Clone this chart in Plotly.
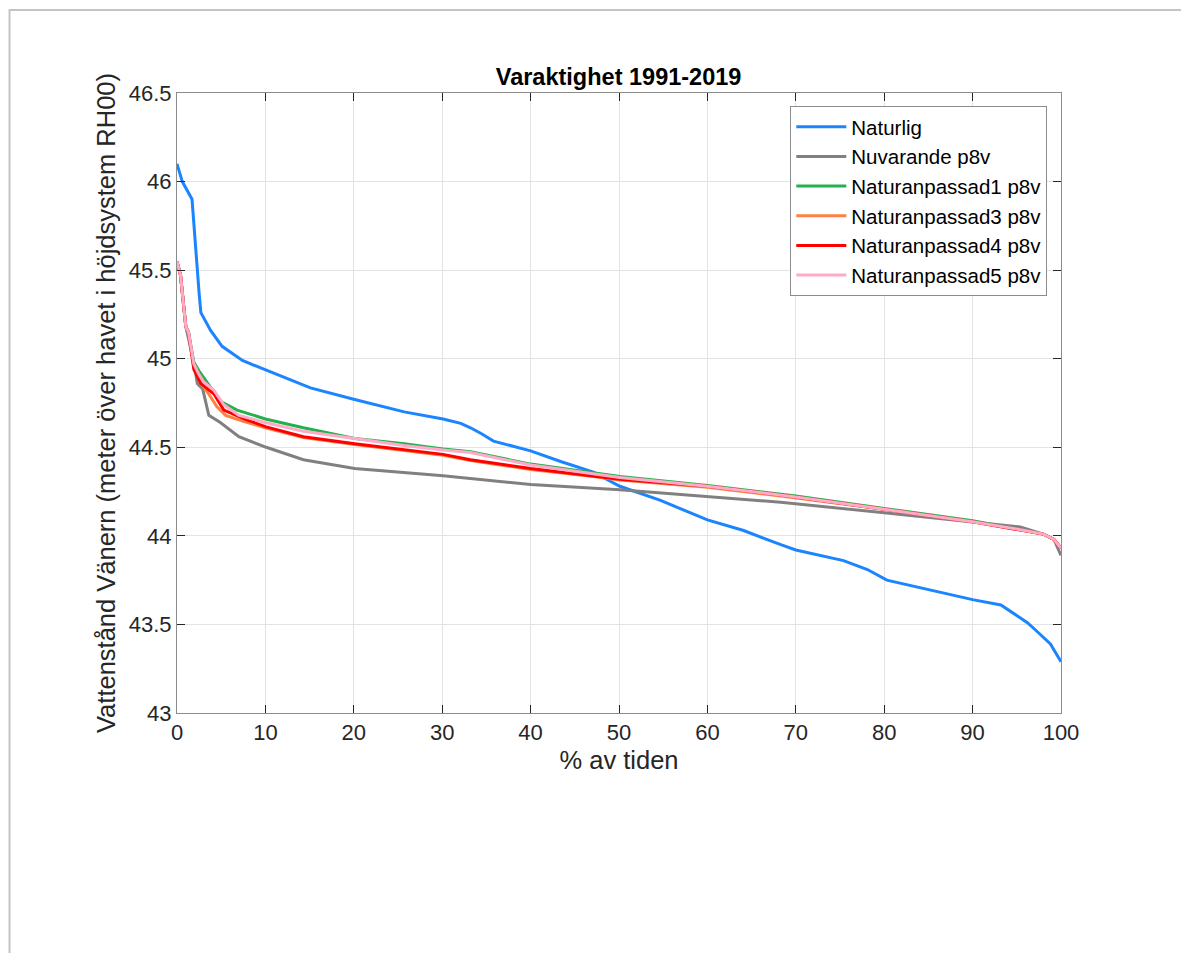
import plotly.graph_objects as go

# ---- data ----
naturlig_x = [0, 0.6, 1.7, 2.1, 2.5, 2.7, 3.8, 5.1, 7.4, 10.1, 15.1, 20.1, 25.7, 30.1, 32.1, 33.2, 34.5, 35.8, 40,
              43.4, 47.1, 50.1, 54.7, 60, 64.1, 68.3, 70, 75.4, 78.1, 80.3, 83, 90, 93.2, 94.7, 96.2, 97.3, 98.8, 100]
naturlig_y = [46.10, 46.00, 45.90, 45.62, 45.37, 45.26, 45.16, 45.07, 44.99, 44.935, 44.835, 44.77, 44.70, 44.66,
              44.635, 44.61, 44.575, 44.535, 44.48, 44.42, 44.36, 44.28, 44.20, 44.09, 44.03, 43.95, 43.92, 43.86,
              43.81, 43.75, 43.72, 43.64, 43.61, 43.56, 43.51, 43.46, 43.39, 43.29]

nuvarande_x = [0, 0.4, 1.0, 1.9, 2.3, 2.9, 3.6, 4.9, 7.0, 10.1, 14.3, 20.1, 30.1, 40, 50.1, 60, 68.3, 80, 90,
               95.4, 98, 99.2, 100]
nuvarande_y = [45.55, 45.47, 45.18, 44.98, 44.86, 44.83, 44.68, 44.64, 44.56, 44.50, 44.43, 44.38, 44.34, 44.29,
               44.26, 44.22, 44.19, 44.13, 44.08, 44.05, 44.01, 43.98, 43.89]

nat1_x = [0, 0.4, 1.0, 1.3, 1.9, 2.5, 4.9, 6.8, 10, 14.3, 20.1, 25.7, 30.1, 33.2, 40, 50.1, 60, 70, 80, 90,
          98, 99.2, 100]
nat1_y = [45.55, 45.47, 45.18, 45.15, 44.98, 44.93, 44.76, 44.71, 44.66, 44.61, 44.55, 44.52, 44.49, 44.475,
          44.405, 44.335, 44.285, 44.225, 44.155, 44.085, 44.01, 43.98, 43.93]

nat3_x = [0, 0.4, 1.0, 1.3, 1.9, 2.7, 3.6, 4.5, 5.5, 7.6, 10, 14.3, 20.1, 30.1, 33.2, 40, 47.1, 50.1, 60, 68.3,
          80, 90, 98, 99.2, 100]
nat3_y = [45.55, 45.47, 45.18, 45.15, 44.96, 44.86, 44.80, 44.73, 44.68, 44.645, 44.61, 44.555, 44.515, 44.455,
          44.425, 44.375, 44.335, 44.315, 44.275, 44.225, 44.15, 44.08, 44.01, 43.98, 43.93]

nat4_x = [0, 0.4, 1.0, 1.3, 1.9, 2.7, 4.2, 5.3, 7.6, 10.1, 14.3, 20.1, 30.1, 33.2, 40, 47.1, 50.1, 60, 68.3,
          80, 90, 98, 99.2, 100]
nat4_y = [45.55, 45.47, 45.18, 45.15, 44.94, 44.86, 44.80, 44.71, 44.66, 44.615, 44.56, 44.52, 44.46, 44.43,
          44.38, 44.34, 44.32, 44.28, 44.23, 44.15, 44.08, 44.01, 43.98, 43.93]

nat5_x = [0, 0.4, 1.0, 1.3, 1.9, 2.5, 3.0, 4.2, 5.3, 7.0, 10, 14.3, 20.1, 25.7, 30.1, 33.2, 40, 50.1, 60, 70,
          80, 90, 95.4, 98, 99.2, 100]
nat5_y = [45.55, 45.47, 45.18, 45.15, 44.97, 44.91, 44.87, 44.82, 44.74, 44.68, 44.64, 44.59, 44.55, 44.51,
          44.485, 44.47, 44.40, 44.33, 44.28, 44.22, 44.15, 44.08, 44.035, 44.01, 43.98, 43.93]

x_ticks = [0, 10, 20, 30, 40, 50, 60, 70, 80, 90, 100]
y_ticks = [43, 43.5, 44, 44.5, 45, 45.5, 46, 46.5]
y_tick_text = ["43", "43.5", "44", "44.5", "45", "45.5", "46", "46.5"]

series = [
    ("Naturlig", naturlig_x, naturlig_y, "#1A85FF", 3),
    ("Nuvarande p8v", nuvarande_x, nuvarande_y, "#808080", 3),
    ("Naturanpassad1 p8v", nat1_x, nat1_y, "#22B14C", 3),
    ("Naturanpassad3 p8v", nat3_x, nat3_y, "#FF8040", 3),
    ("Naturanpassad4 p8v", nat4_x, nat4_y, "#FF0000", 3),
    ("Naturanpassad5 p8v", nat5_x, nat5_y, "#FFAAC9", 3),
]

FONT = "Liberation Sans, Arial, Helvetica, sans-serif"

fig = go.Figure()
for name, xs, ys, col, w in series:
    fig.add_trace(go.Scatter(x=xs, y=ys, mode="lines", name=name,
                             line=dict(color=col, width=w)))

# the page body adds an 8px offset; figure coordinates below are page coords minus 8
W, H = 1181, 945
L, T = 168.5, 85
pw, ph = 884.2, 620.3
R, B = W - L - pw, H - T - ph

axis_common = dict(
    showline=True, linecolor="#8c8c8c", linewidth=1, mirror="ticks",
    ticks="inside", ticklen=8, tickcolor="#262626", tickwidth=1,
    showgrid=True, gridcolor="#e3e3e3", gridwidth=1, zeroline=False,
    tickfont=dict(family=FONT, size=22, color="#262626"),
)

fig.update_layout(
    width=W, height=H,
    margin=dict(l=L, r=R, t=T, b=B, autoexpand=False),
    paper_bgcolor="white", plot_bgcolor="white",
    title=dict(text="<b>Varaktighet 1991-2019</b>", x=(L + pw / 2) / W, xanchor="center",
               y=1 - 69 / H, yanchor="middle",
               font=dict(family=FONT, size=23.5, color="black")),
    xaxis=dict(range=[0, 100], tickvals=x_ticks,
               title=dict(text="% av tiden", font=dict(family=FONT, size=25.5, color="#262626"), standoff=6),
               **axis_common),
    yaxis=dict(range=[43, 46.5], tickvals=y_ticks, ticktext=y_tick_text,
               title=dict(text="Vattenstånd Vänern (meter över havet i höjdsystem RH00)",
                          font=dict(family=FONT, size=25.5, color="#262626"), standoff=5),
               **axis_common),
    legend=dict(x=(1039 - L) / pw, xanchor="right", y=1 - (98 - T) / ph, yanchor="top",
                bgcolor="white", bordercolor="#8c8c8c", borderwidth=1,
                font=dict(family=FONT, size=20.5, color="black"),
                itemwidth=50, tracegroupgap=0),
    showlegend=True,
)

# outer light-grey frame of the exported figure
fig.add_shape(type="rect", xref="paper", yref="paper",
              x0=(1 - L) / pw, x1=(1250 - L) / pw,
              y0=1 - (1000 - T) / ph, y1=1 + (T - 2) / ph,
              line=dict(color="#c4c4c4", width=2), fillcolor="rgba(0,0,0,0)", layer="below")

fig.write_html("out.html")
